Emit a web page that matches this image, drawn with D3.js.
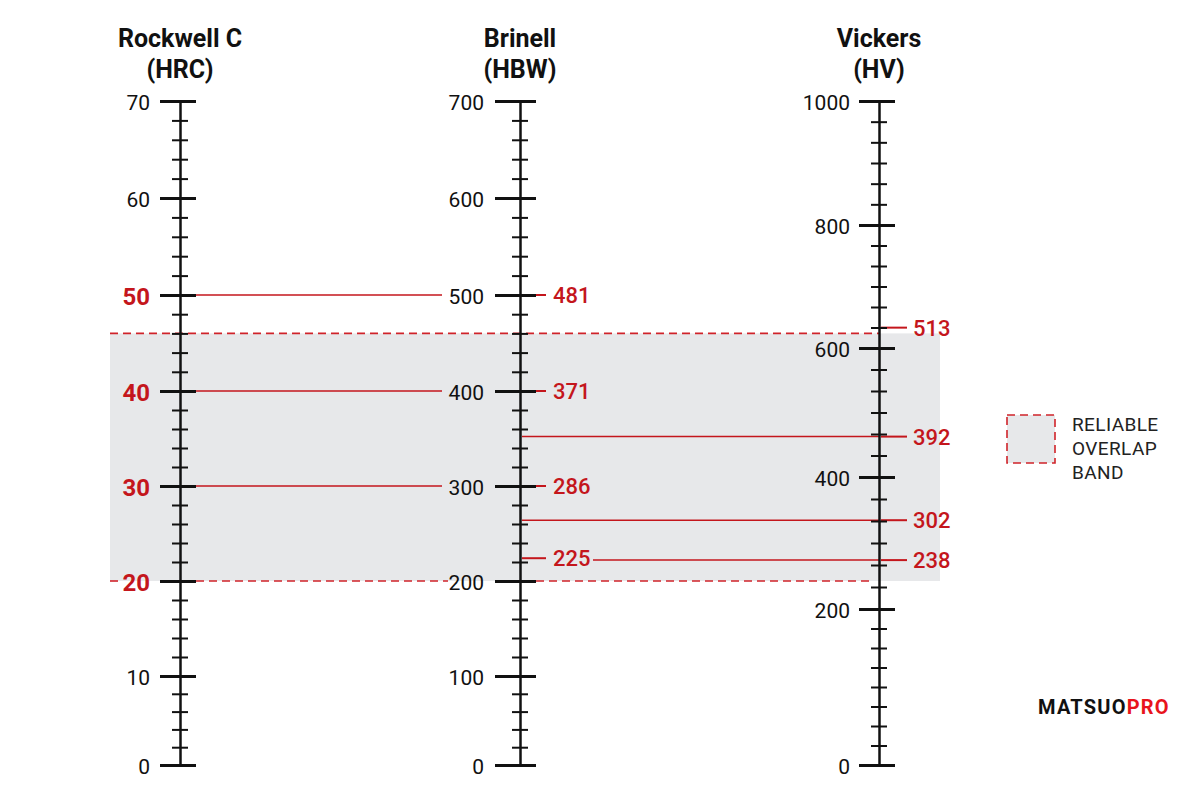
<!DOCTYPE html>
<html>
<head>
<meta charset="utf-8">
<script src="https://cdn.jsdelivr.net/npm/d3@7"></script>
<style>
  body { margin: 0; background: #fff; }
  text { font-family: Roboto, "Liberation Sans", sans-serif; }
</style>
</head>
<body>
<script>
// ---- data ----
var scaleNames = ["Rockwell C", "Brinell", "Vickers"];
var scaleUnits = ["(HRC)", "(HBW)", "(HV)"];

var hrcTicks = [0, 10, 20, 30, 40, 50, 60, 70];
var hbwTicks = [0, 100, 200, 300, 400, 500, 600, 700];
var hvTicks = [0, 200, 400, 600, 800, 1000];
var hvMinorDivs = [8, 6, 6, 6, 6];   // minor steps per major interval on the HV scale

var hrcRed = [20, 30, 40, 50];        // highlighted HRC labels
var hrcLines = [50, 40, 30];          // HRC levels carried over to Brinell

var hbwValues = [481, 371, 286, 225]; // Brinell readings
var hbwAt = [500, 400, 300, 224];     // where each sits on the HBW axis

var hvValues = [513, 392, 302, 238];  // Vickers readings
var hvAt = [466, 352, 264, 222];      // height of each, read on the HBW axis
var hvLine = [false, true, true, true];

var band = [20, 46];                  // reliable overlap band, HRC

// ---- layout ----
var width = 1200, height = 800;
var red = "#c4161c";
var xRock = 180, xBrin = 520, xVick = 879;

var svg = d3.select("body")
    .append("svg")
    .attr("width", width)
    .attr("height", height);

// pixel positions of the printed ticks (the printed scales are slightly uneven)
var yRock = d3.scaleLinear()
    .domain(hrcTicks)
    .range([765, 676, 581, 486, 391, 295, 198, 101]);
var yBrin = d3.scaleLinear()
    .domain(hbwTicks)
    .range(yRock.range());
var yVick = d3.scaleLinear()
    .domain(hvTicks)
    .range([765, 609, 477, 348, 225, 101]);

function minorTicks(major, divs) {
    var out = [];
    for (var i = 0; i < major.length - 1; i++) {
        var n = Array.isArray(divs) ? divs[i] : divs;
        var step = (major[i + 1] - major[i]) / n;
        for (var k = 1; k < n; k++) out.push(major[i] + k * step);
    }
    return out;
}

// ---- band ----
svg.append("rect")
    .attr("x", 110)
    .attr("y", yRock(band[1]))
    .attr("width", 940 - 110)
    .attr("height", yRock(band[0]) - yRock(band[1]))
    .attr("fill", "#e7e8ea");

var dash = function(sel) {
    return sel.attr("stroke", "#d0232a")
        .attr("stroke-width", 1.6)
        .attr("stroke-dasharray", "8,5");
};
svg.append("line")
    .attr("x1", 110).attr("x2", xVick)
    .attr("y1", yRock(band[1])).attr("y2", yRock(band[1]))
    .call(dash);
// bottom edge, broken around the tick labels
[[110, 121], [196, 448], [536, 870]].forEach(function(s) {
    svg.append("line")
        .attr("x1", s[0]).attr("x2", s[1])
        .attr("y1", yRock(band[0])).attr("y2", yRock(band[0]))
        .call(dash);
});

// ---- cross lines ----
hrcLines.forEach(function(v) {
    svg.append("line")
        .attr("x1", xRock + 16).attr("x2", 442)
        .attr("y1", yRock(v)).attr("y2", yRock(v))
        .attr("stroke", red).attr("stroke-width", 1.5);
});

hbwValues.forEach(function(v, i) {
    var y = yBrin(hbwAt[i]);
    svg.append("line")
        .attr("x1", xBrin + 2).attr("x2", xBrin + 26)
        .attr("y1", y).attr("y2", y)
        .attr("stroke", red).attr("stroke-width", 2);
    svg.append("text")
        .attr("x", xBrin + 33).attr("y", y)
        .attr("dy", "0.36em")
        .attr("font-size", 22).attr("font-weight", 500)
        .attr("fill", red)
        .text(v);
});

hvValues.forEach(function(v, i) {
    var y = yBrin(hvAt[i]);
    if (hvLine[i]) {
        var start = xBrin + 2;
        hbwAt.forEach(function(b) {
            if (Math.abs(yBrin(b) - y) < 6) start = xBrin + 73;
        });
        svg.append("line")
            .attr("x1", start).attr("x2", xVick)
            .attr("y1", y).attr("y2", y)
            .attr("stroke", red).attr("stroke-width", 1.5);
    }
    svg.append("line")
        .attr("x1", xVick + 2).attr("x2", xVick + 28)
        .attr("y1", y).attr("y2", y)
        .attr("stroke", red).attr("stroke-width", 2);
    svg.append("text")
        .attr("x", xVick + 34).attr("y", y)
        .attr("dy", "0.36em")
        .attr("font-size", 22).attr("font-weight", 500)
        .attr("fill", red)
        .text(v);
});

// ---- axes ----
function drawAxis(x, scale, major, minor, leftLen, pad, title, unit) {
    var g = svg.append("g").attr("transform", "translate(" + x + ",0)");

    g.append("g")
        .call(d3.axisLeft(scale).tickValues(minor).tickSize(8).tickSizeOuter(0).tickFormat(""))
        .call(function(a) {
            a.select(".domain").remove();
            a.selectAll(".tick line").attr("x1", 8)
                .attr("stroke", "#111").attr("stroke-width", 2);
        });

    g.append("g")
        .call(d3.axisLeft(scale).tickValues(major).tickSize(leftLen).tickSizeOuter(0)
            .tickPadding(pad).tickFormat(d3.format("d")))
        .call(function(a) {
            a.select(".domain").attr("stroke", "#111").attr("stroke-width", 2.5);
            a.selectAll(".tick line").attr("x1", 16)
                .attr("stroke", "#111").attr("stroke-width", 3);
            a.selectAll(".tick text")
                .attr("font-family", "Roboto, sans-serif")
                .attr("font-size", 21)
                .attr("fill", "#111")
                .attr("dy", "0.4em");
        });

    g.append("text")
        .attr("y", 47).attr("text-anchor", "middle")
        .attr("font-size", 25).attr("font-weight", "bold").attr("fill", "#111")
        .text(title);
    g.append("text")
        .attr("y", 78).attr("text-anchor", "middle")
        .attr("font-size", 25).attr("font-weight", "bold").attr("fill", "#111")
        .text(unit);
    return g;
}

var gRock = drawAxis(xRock, yRock, hrcTicks, minorTicks(hrcTicks, 5), 20, 10, scaleNames[0], scaleUnits[0]);
gRock.selectAll(".tick text")
    .filter(function(d) { return hrcRed.indexOf(d) >= 0; })
    .attr("fill", red)
    .attr("font-size", 24)
    .attr("font-weight", "bold");

drawAxis(xBrin, yBrin, hbwTicks, minorTicks(hbwTicks, 5), 25, 11, scaleNames[1], scaleUnits[1]);
drawAxis(xVick, yVick, hvTicks, minorTicks(hvTicks, hvMinorDivs), 20, 9, scaleNames[2], scaleUnits[2]);

// ---- legend ----
svg.append("rect")
    .attr("x", 1007).attr("y", 415)
    .attr("width", 48).attr("height", 48)
    .attr("fill", "#e7e8ea")
    .call(dash);

["RELIABLE", "OVERLAP", "BAND"].forEach(function(t, i) {
    svg.append("text")
        .attr("x", 1072).attr("y", 431 + i * 24)
        .attr("font-size", 19).attr("fill", "#222")
        .attr("letter-spacing", 0.4)
        .text(t);
});

// ---- logo ----
var logo = svg.append("text")
    .attr("x", 1038).attr("y", 714)
    .attr("font-family", "'Liberation Sans', Arial, sans-serif")
    .attr("font-size", 20).attr("font-weight", "bold")
    .attr("letter-spacing", 1.2);
logo.append("tspan").attr("fill", "#111").text("MATSUO");
logo.append("tspan").attr("fill", "#e8141c").text("PRO");
</script>
</body>
</html>
